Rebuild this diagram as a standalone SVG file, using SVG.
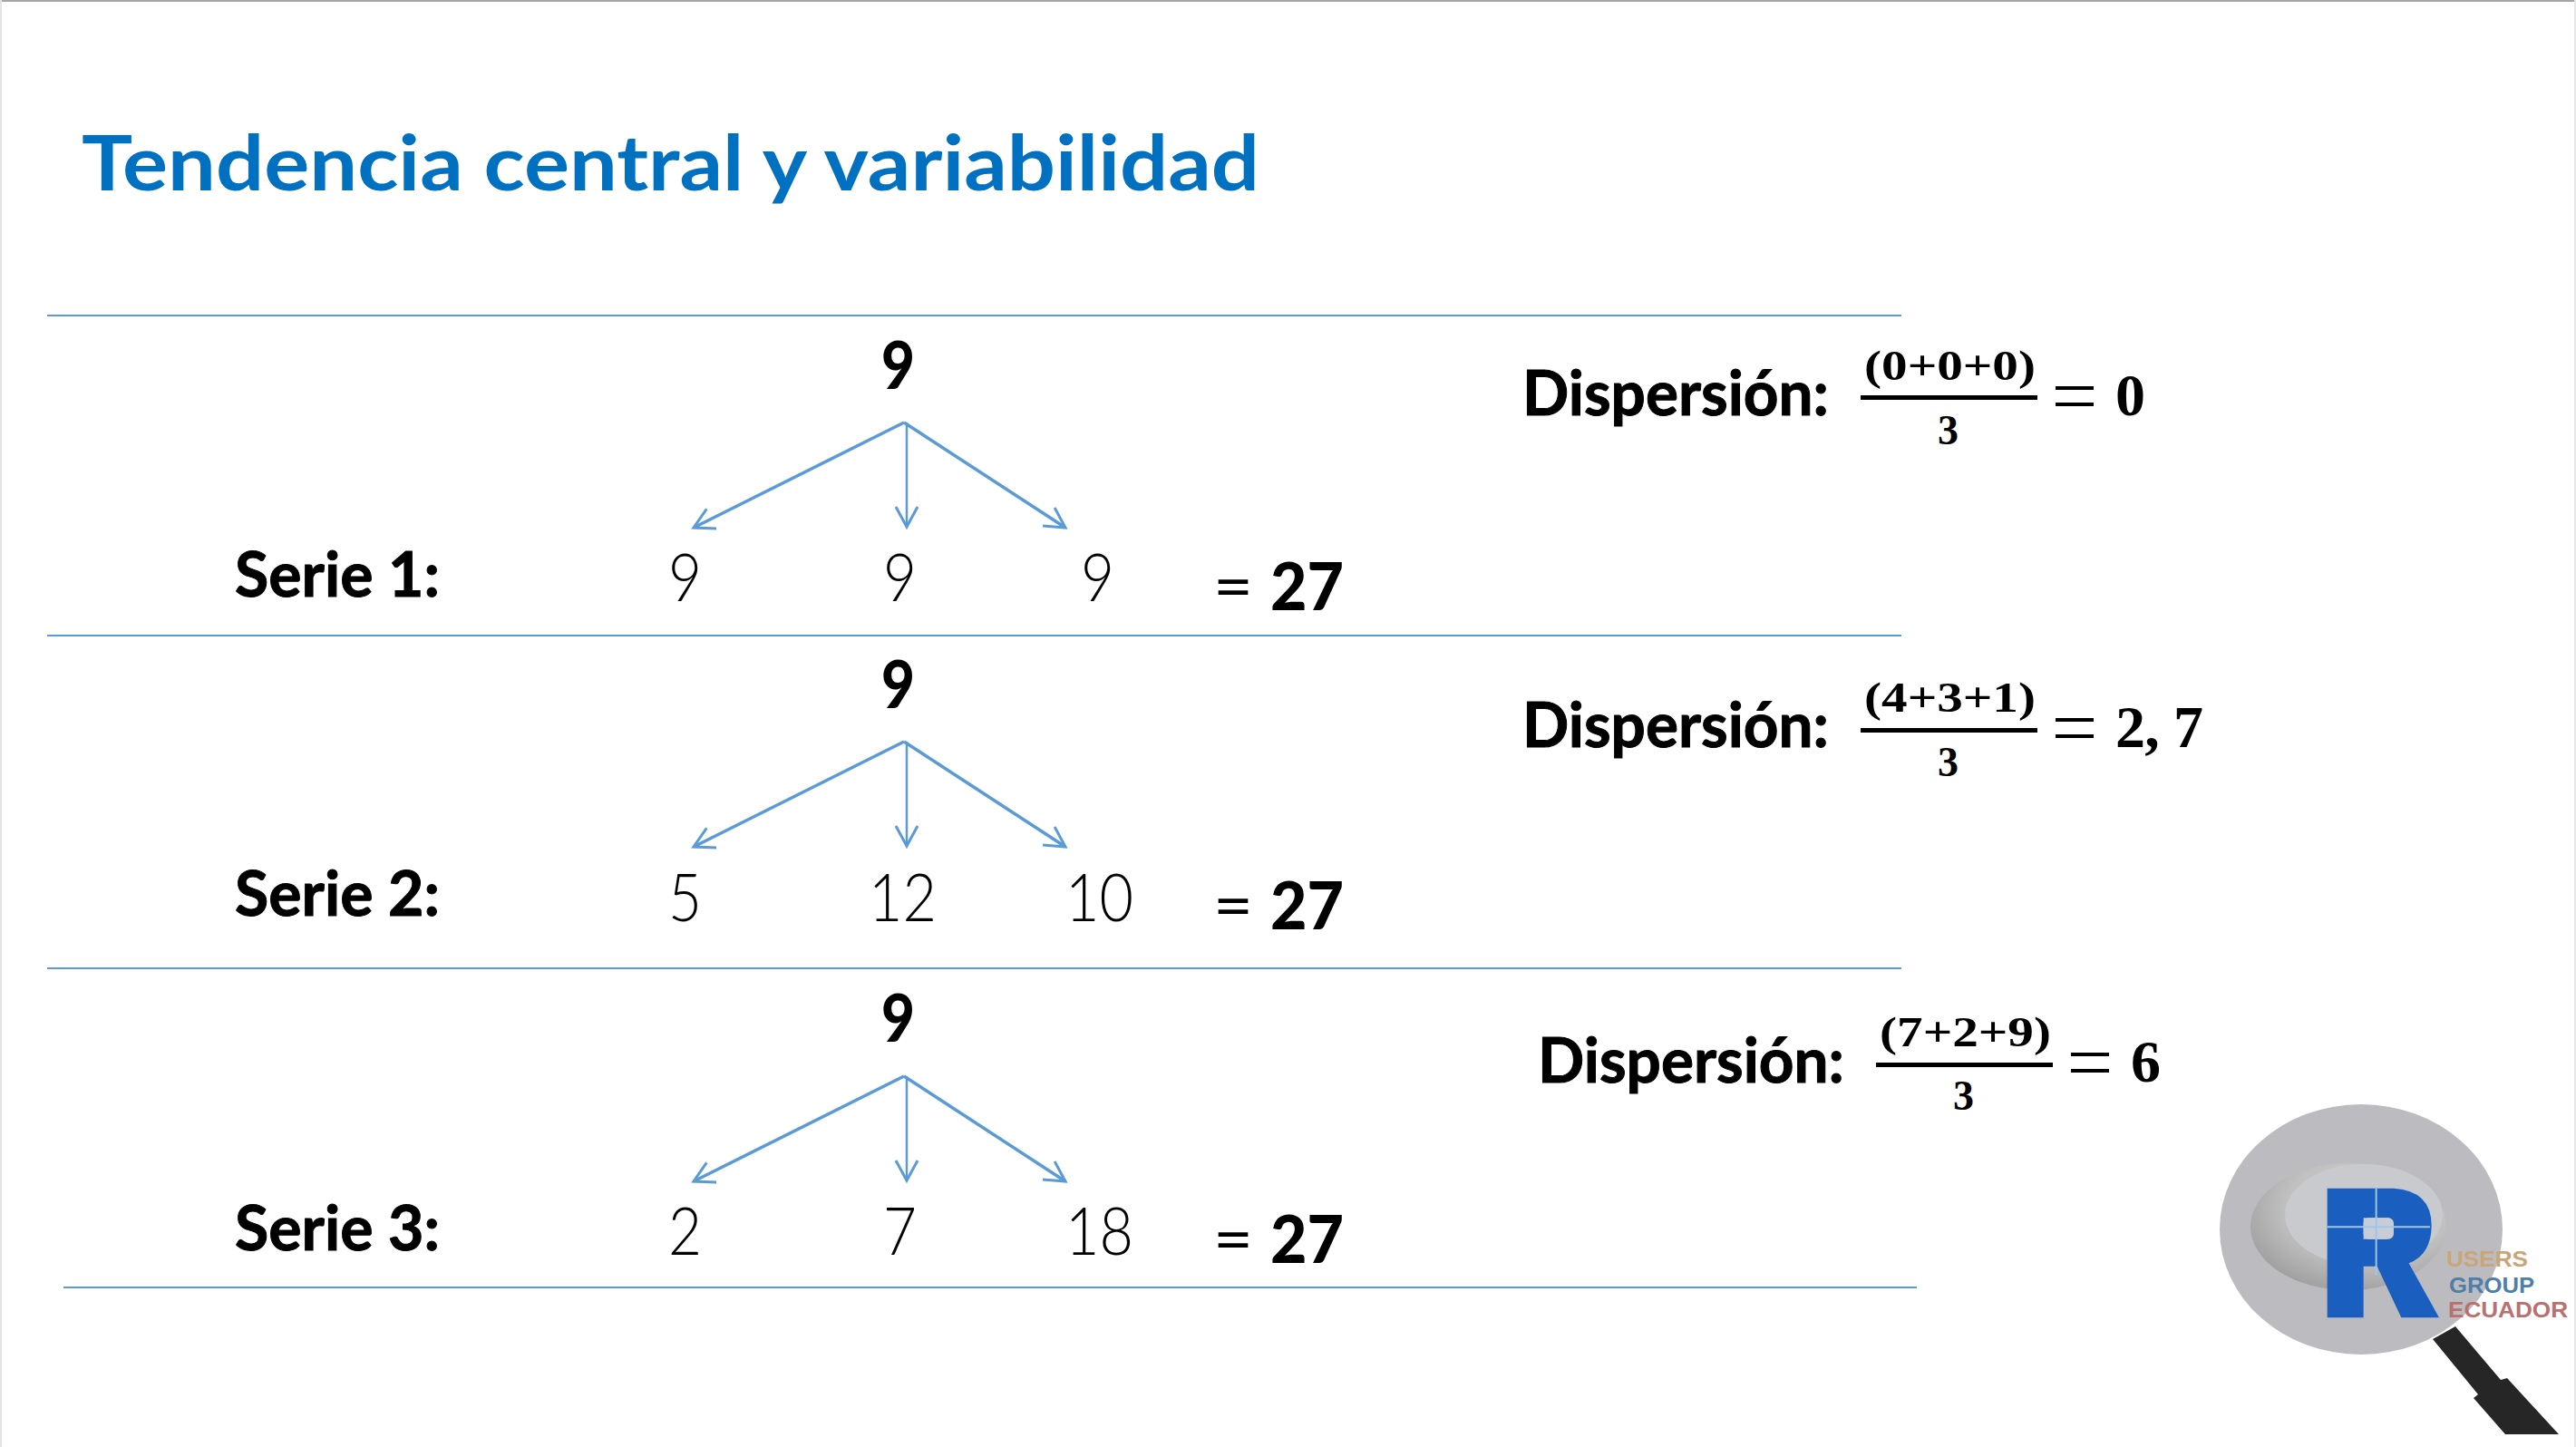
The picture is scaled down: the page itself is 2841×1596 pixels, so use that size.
<svg xmlns="http://www.w3.org/2000/svg" width="2841" height="1596" viewBox="0 0 2841 1596">
<defs>
<style>
.title{font:700 84px Lato,"Liberation Sans",sans-serif;fill:#0070c0}
.bold{font:700 68px Lato,"Liberation Sans",sans-serif;fill:#000;stroke:#000;stroke-width:1}
.big{font:900 72px Lato,"Liberation Sans",sans-serif;fill:#000}
.light{font:300 72px Lato,"Liberation Sans",sans-serif;fill:#000}
.eq{font:400 72px Lato,"Liberation Sans",sans-serif;fill:#000}
.math{font:700 46px "Liberation Serif",serif;fill:#000}
.res{font:700 66px "Liberation Serif",serif;fill:#000}
.rule{stroke:#5b9bd5;stroke-width:2;fill:none}
.arrow{stroke:#5b9bd5;stroke-width:3.5;fill:none;marker-end:url(#a)}
.thin{stroke-width:2.5}
.bar{fill:#000}
.logo{font:700 24px "Liberation Sans",sans-serif}
</style>
<marker id="a" markerUnits="userSpaceOnUse" markerWidth="40" markerHeight="40" refX="24" refY="14" orient="auto"><path d="M2,2 L24,14 L2,26" fill="none" stroke="#5b9bd5" stroke-width="3"/></marker>
<radialGradient id="dish" cx="0.6" cy="0.35" r="0.7"><stop offset="0" stop-color="#d8d8d8"/><stop offset="0.6" stop-color="#c0c0c0"/><stop offset="1" stop-color="#9e9e9e"/></radialGradient>
<g id="fan"><path class="arrow" d="M997,0 L765,116"/><path class="arrow thin" d="M1000,0 V115"/><path class="arrow" d="M997,0 L1175,116"/></g>
</defs>
<rect width="2841" height="1596" fill="#fff"/>
<rect width="2841" height="2" fill="#a6a6a6"/>
<rect width="2" height="1596" fill="#e4e4e4"/>
<rect x="2839" width="2" height="1596" fill="#e8e8e8"/>
<g id="title"><text class="title" x="90" y="210" textLength="1299" lengthAdjust="spacingAndGlyphs">Tendencia central y variabilidad</text></g>
<g id="connectors">
<path class="rule" d="M52,348 H2097 M52,701 H2097 M52,1068 H2097 M70,1420 H2114"/>
<use href="#fan" y="466"/><use href="#fan" y="818"/><use href="#fan" y="1187"/>
</g>
<g id="serie1">
<text class="big" x="972" y="429" textLength="37" lengthAdjust="spacingAndGlyphs">9</text>
<text class="bold" x="259" y="658" textLength="226" lengthAdjust="spacingAndGlyphs">Serie 1:</text>
<text class="light" x="737" y="663" textLength="37" lengthAdjust="spacingAndGlyphs">9</text>
<text class="light" x="974" y="663" textLength="37" lengthAdjust="spacingAndGlyphs">9</text>
<text class="light" x="1192" y="663" textLength="37" lengthAdjust="spacingAndGlyphs">9</text>
<text class="eq" x="1338" y="672" textLength="44" lengthAdjust="spacingAndGlyphs">=</text>
<text class="big" x="1401" y="673" textLength="81" lengthAdjust="spacingAndGlyphs">27</text>
</g>
<g id="serie2">
<text class="big" x="972" y="781" textLength="37" lengthAdjust="spacingAndGlyphs">9</text>
<text class="bold" x="259" y="1010" textLength="226" lengthAdjust="spacingAndGlyphs">Serie 2:</text>
<text class="light" x="737" y="1016" textLength="37" lengthAdjust="spacingAndGlyphs">5</text>
<text class="light" x="958" y="1016" textLength="75" lengthAdjust="spacingAndGlyphs">12</text>
<text class="light" x="1175" y="1016" textLength="75" lengthAdjust="spacingAndGlyphs">10</text>
<text class="eq" x="1338" y="1024" textLength="44" lengthAdjust="spacingAndGlyphs">=</text>
<text class="big" x="1401" y="1025" textLength="81" lengthAdjust="spacingAndGlyphs">27</text>
</g>
<g id="serie3">
<text class="big" x="972" y="1149" textLength="37" lengthAdjust="spacingAndGlyphs">9</text>
<text class="bold" x="259" y="1379" textLength="226" lengthAdjust="spacingAndGlyphs">Serie 3:</text>
<text class="light" x="737" y="1384" textLength="37" lengthAdjust="spacingAndGlyphs">2</text>
<text class="light" x="974" y="1384" textLength="37" lengthAdjust="spacingAndGlyphs">7</text>
<text class="light" x="1175" y="1384" textLength="75" lengthAdjust="spacingAndGlyphs">18</text>
<text class="eq" x="1338" y="1392" textLength="44" lengthAdjust="spacingAndGlyphs">=</text>
<text class="big" x="1401" y="1393" textLength="81" lengthAdjust="spacingAndGlyphs">27</text>
</g>
<g id="dispersion1">
<text class="bold" x="1679" y="458" textLength="338" lengthAdjust="spacingAndGlyphs">Dispersión:</text>
<text class="math" x="2056" y="419" textLength="189" lengthAdjust="spacingAndGlyphs">(0+0+0)</text>
<rect class="bar" x="2052" y="436" width="195" height="5"/>
<text class="math" x="2137" y="490">3</text>
<rect class="bar" x="2267" y="426" width="42" height="4"/><rect class="bar" x="2267" y="444" width="42" height="4"/>
<text class="res" x="2333" y="458">0</text>
</g>
<g id="dispersion2">
<text class="bold" x="1679" y="824" textLength="338" lengthAdjust="spacingAndGlyphs">Dispersión:</text>
<text class="math" x="2056" y="785" textLength="189" lengthAdjust="spacingAndGlyphs">(4+3+1)</text>
<rect class="bar" x="2052" y="803" width="195" height="5"/>
<text class="math" x="2137" y="856">3</text>
<rect class="bar" x="2267" y="792" width="42" height="4"/><rect class="bar" x="2267" y="810" width="42" height="4"/>
<text class="res" x="2333" y="824" textLength="97" lengthAdjust="spacing">2, 7</text>
</g>
<g id="dispersion3">
<text class="bold" x="1696" y="1194" textLength="338" lengthAdjust="spacingAndGlyphs">Dispersión:</text>
<text class="math" x="2073" y="1154" textLength="189" lengthAdjust="spacingAndGlyphs">(7+2+9)</text>
<rect class="bar" x="2069" y="1172" width="195" height="5"/>
<text class="math" x="2154" y="1224">3</text>
<rect class="bar" x="2284" y="1161" width="42" height="4"/><rect class="bar" x="2284" y="1179" width="42" height="4"/>
<text class="res" x="2350" y="1193">6</text>
</g>
<g id="logo">
<path d="M2683,1477 L2708,1463 L2758,1522 L2765,1520 L2822,1582 H2763 L2728,1542 L2733,1538 Z" fill="#262626"/>
<ellipse cx="2604" cy="1356" rx="156" ry="138" fill="#bcbcc0"/>
<ellipse cx="2590" cy="1353" rx="108" ry="70" fill="url(#dish)"/>
<ellipse cx="2607" cy="1340" rx="87" ry="56" fill="#c8cace"/>
<g transform="translate(2400 1180) scale(.3333)">
<path fill-rule="evenodd" fill="#1a5fc0" d="M500,392 H720 Q845,400 845,515 Q845,610 770,640 L870,820 H745 L665,650 H620 V820 H500 Z M620,490 H700 Q720,490 720,525 Q715,560 695,560 H620 Z"/>
<rect x="620" y="490" width="100" height="70" rx="18" fill="#c8ccd4"/>
<path d="M500,520 H840 M662,392 V680" stroke="#9cc6ee" stroke-width="6" fill="none"/>
</g>
<text class="logo" x="2698" y="1397" fill="#c9a676" textLength="90" lengthAdjust="spacingAndGlyphs">USERS</text>
<text class="logo" x="2701" y="1426" fill="#4f7fa8" textLength="94" lengthAdjust="spacingAndGlyphs">GROUP</text>
<text class="logo" x="2700" y="1453" fill="#b9706f" textLength="132" lengthAdjust="spacingAndGlyphs">ECUADOR</text>
</g>
</svg>
